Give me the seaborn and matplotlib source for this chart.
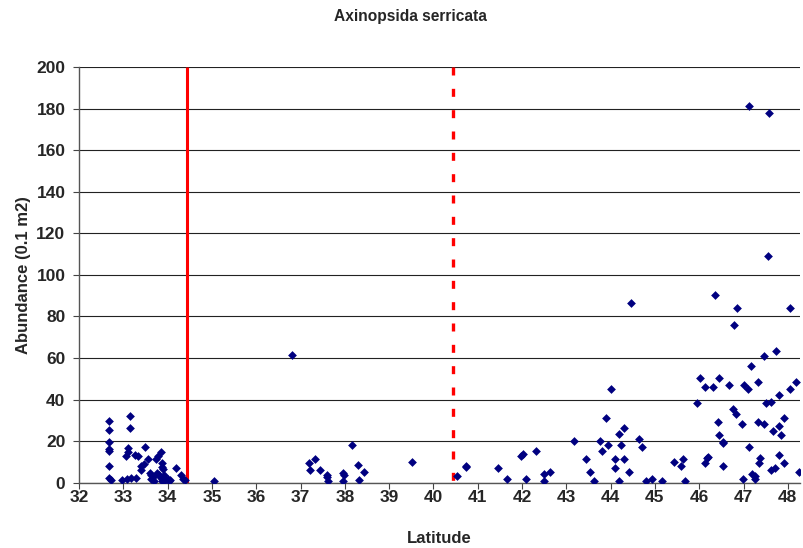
import matplotlib
matplotlib.use("Agg")
import matplotlib.pyplot as plt
import seaborn as sns
import pandas as pd

# ---- data ----
latitude = [
    32.68, 32.68, 32.68, 32.68, 32.68, 32.68, 32.68, 32.72, 32.98, 33.08, 33.18, 33.28,
    33.15, 33.15, 33.11, 33.10, 33.07, 33.26, 33.34, 33.50, 33.56, 33.41, 33.46, 33.40,
    33.79, 33.84, 33.74, 33.87, 33.87, 33.90, 33.60, 33.63, 33.66, 33.62, 33.70, 33.76,
    33.80, 33.85, 33.92, 33.95, 34.00, 34.03, 34.06, 33.88, 34.20, 34.30, 34.35, 34.40,
    35.05,
    36.81, 37.20, 37.22, 37.33, 37.45, 37.60, 37.60, 37.62, 37.97, 37.98, 37.96, 38.17,
    38.30, 38.31, 38.44, 39.51,
    40.53, 40.74, 40.74, 41.45, 41.65, 41.98, 42.03, 42.09, 42.32, 42.50, 42.50, 42.63,
    43.17, 43.44, 43.53, 43.63, 43.76, 43.80, 43.89, 43.95, 44.02, 44.10, 44.10, 44.20,
    44.20, 44.23, 44.30, 44.30, 44.41, 44.46, 44.65, 44.70, 44.79, 44.94, 45.15, 45.43,
    45.60, 45.64, 45.68,
    45.96, 46.02, 46.13, 46.13, 46.18, 46.20, 46.30, 46.36, 46.43, 46.44, 46.45, 46.54,
    46.54, 46.54, 46.68, 46.77, 46.79, 46.83, 46.86, 46.97, 46.98, 47.00, 47.09, 47.13,
    47.13, 47.17, 47.20, 47.25, 47.27, 47.32, 47.33, 47.35, 47.37, 47.47, 47.47, 47.51,
    47.56, 47.58, 47.62, 47.63, 47.67, 47.72, 47.73, 47.79, 47.80, 47.81, 47.85, 47.91,
    47.92, 48.05, 48.05, 48.18, 48.26,
]
abundance = [
    29.5, 25.3, 19.4, 16.0, 15.2, 8.2, 2.2, 1.2, 1.5, 1.8, 2.4, 2.4,
    32.0, 26.1, 16.5, 14.9, 13.0, 13.3, 13.0, 17.0, 11.4, 7.9, 9.0, 6.3,
    13.0, 14.6, 11.5, 9.3, 7.7, 6.8, 4.5, 3.7, 2.9, 2.0, 1.0, 4.8,
    3.5, 2.5, 3.5, 1.2, 2.0, 0.8, 1.5, 1.0, 7.2, 3.7, 2.0, 1.2,
    1.0,
    61.4, 9.3, 6.0, 11.2, 6.0, 3.7, 2.6, 1.0, 4.5, 3.7, 1.0, 18.1,
    8.5, 1.3, 5.0, 10.0,
    3.2, 8.0, 7.4, 7.2, 2.0, 13.0, 14.0, 2.0, 15.2, 4.2, 1.0, 5.3,
    20.2, 11.2, 5.3, 1.0, 20.2, 15.2, 31.0, 18.0, 45.0, 11.2, 7.2, 1.0,
    23.3, 18.0, 26.1, 11.2, 5.3, 86.4, 21.0, 17.0, 1.0, 2.0, 1.0, 10.0,
    8.2, 11.2, 1.0,
    38.2, 50.2, 46.2, 9.3, 11.7, 12.2, 46.2, 90.2, 29.0, 50.2, 23.1, 19.7,
    18.9, 8.0, 47.1, 35.4, 76.1, 33.0, 84.1, 28.2, 2.0, 47.1, 45.2, 181.3,
    17.0, 56.1, 4.0, 3.4, 2.0, 29.2, 48.3, 9.3, 11.7, 61.0, 28.2, 38.2,
    109.0, 178.0, 6.0, 39.0, 25.0, 7.0, 63.2, 13.3, 27.1, 42.2, 23.1, 31.3,
    9.3, 84.1, 45.2, 48.3, 5.3,
]
boundary_solid = [34.44]
boundary_dashed = [40.44]
x_ticks = list(range(32, 49))
y_ticks = list(range(0, 201, 20))

title = "Axinopsida serricata"
x_label = "Latitude"
y_label = "Abundance (0.1 m2)"

df = pd.DataFrame({"Latitude": latitude, "Abundance": abundance})

# ---- style ----
sns.set_style("white")
plt.rcParams["font.family"] = ["Liberation Sans", "DejaVu Sans"]
plt.rcParams["font.weight"] = "bold"

W, H = 804, 548
fig = plt.figure(figsize=(W / 100, H / 100), dpi=100)
ax = fig.add_axes([79 / W, 1 - 482.7 / H, (800 - 79) / W, (482.7 - 67) / H])

# grid lines
for yv in y_ticks:
    ax.axhline(yv, color="#222222", lw=0.8, zorder=1)

sns.scatterplot(data=df, x="Latitude", y="Abundance", ax=ax, marker="D",
                color="#000080", s=20, linewidth=0, zorder=3, legend=False)

for xv in boundary_solid:
    ax.plot([xv, xv], [0, 200], color="#ff0000", lw=2.2, solid_capstyle="butt", zorder=2)
for xv in boundary_dashed:
    ax.plot([xv, xv], [200, 0], color="#ff0000", lw=2.4,
            linestyle=(0, (2.4, 4.0)), dash_capstyle="butt", zorder=2)

ax.set_xlim(32, 48.275)
ax.set_ylim(0, 200)
ax.set_xticks(x_ticks)
ax.set_yticks(y_ticks)
ax.set_xticklabels([str(t) for t in x_ticks], fontsize=12.5, fontweight="bold")
ax.set_yticklabels([str(t) for t in y_ticks], fontsize=12.5, fontweight="bold")
ax.tick_params(axis="both", direction="out", length=4.3, width=0.8, color="#444444",
               bottom=True, left=True)
ax.tick_params(axis="x", pad=1)
ax.tick_params(axis="y", pad=5.5)

for side in ["top", "right"]:
    ax.spines[side].set_visible(False)
for side in ["left", "bottom"]:
    ax.spines[side].set_color("#555555")
    ax.spines[side].set_linewidth(1.0)

ax.set_xlabel(x_label, fontsize=12, fontweight="bold", labelpad=19)
ax.set_ylabel(y_label, fontsize=12, fontweight="bold", labelpad=4)
fig.text(410 / W, 1 - 17 / H, title, ha="center", va="center",
         fontsize=11.2, fontweight="bold")

fig.savefig("out.png", dpi=100)
